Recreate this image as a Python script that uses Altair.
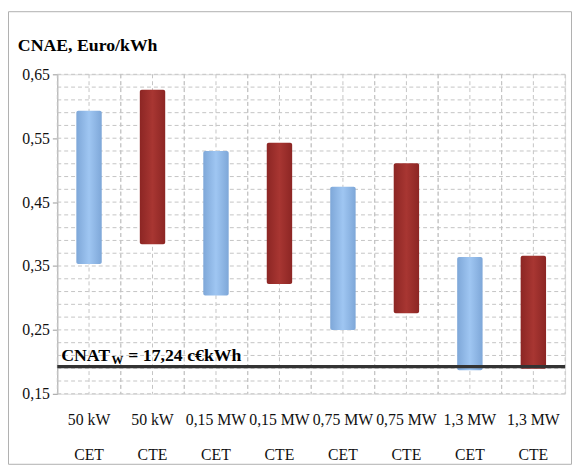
import altair as alt
import pandas as pd

# ---- data ----
categories = ["50 kW|CET", "50 kW|CTE", "0,15 MW|CET", "0,15 MW|CTE",
              "0,75 MW|CET", "0,75 MW|CTE", "1,3 MW|CET", "1,3 MW|CTE"]
series = ["CET", "CTE", "CET", "CTE", "CET", "CTE", "CET", "CTE"]
low_vals = [0.353, 0.384, 0.304, 0.322, 0.250, 0.276, 0.187, 0.189]
high_vals = [0.593, 0.626, 0.530, 0.543, 0.474, 0.511, 0.364, 0.366]
cnat_w = 0.1925
y_label_vals = [0.15, 0.25, 0.35, 0.45, 0.55, 0.65]
y_grid_vals = [0.15, 0.17, 0.19, 0.21, 0.23, 0.25, 0.27, 0.29, 0.31, 0.33,
               0.35, 0.37, 0.39, 0.41, 0.43, 0.45, 0.47, 0.49, 0.51, 0.53,
               0.55, 0.57, 0.59, 0.61, 0.63, 0.65]

bars_df = pd.DataFrame({"cat": categories, "series": series,
                        "low": low_vals, "high": high_vals})
ygrid_df = pd.DataFrame({"v": y_grid_vals})
xgrid_df = pd.DataFrame({"gcat": categories})

W, H = 515, 324
SERIF = "Liberation Serif"

yscale = alt.Scale(domain=[0.15, 0.65], nice=False, zero=False)
xscale = alt.Scale(domain=categories, paddingInner=0.6, paddingOuter=0.3)

blue_grad = alt.Gradient(gradient="linear", x1=0, x2=1, y1=0, y2=0,
                         stops=[alt.GradientStop(color="#7ea7d8", offset=0),
                                alt.GradientStop(color="#9fc6f2", offset=0.5),
                                alt.GradientStop(color="#7ea7d8", offset=1)])
red_grad = alt.Gradient(gradient="linear", x1=0, x2=1, y1=0, y2=0,
                        stops=[alt.GradientStop(color="#8c2624", offset=0),
                               alt.GradientStop(color="#a83632", offset=0.5),
                               alt.GradientStop(color="#8c2624", offset=1)])

yaxis = alt.Axis(values=y_label_vals, grid=False,
                 labelExpr="replace(format(datum.value, '.2f'), '.', ',')",
                 labelFont=SERIF, labelFontSize=16, labelColor="#111",
                 labelPadding=3, tickSize=5, tickColor="#999",
                 domainColor="#aaa")

# horizontal dashed grid
hgrid = alt.Chart(ygrid_df).mark_rule(color="#c4c4c4", strokeWidth=1, strokeDash=[4, 3]).encode(
    y=alt.Y("v:Q", scale=yscale, axis=yaxis, title=None)
)

# vertical dashed grid (own band scale with no padding)
gscale = alt.Scale(domain=categories, paddingInner=0, paddingOuter=0)
vgrid = alt.layer(*[
    alt.Chart(xgrid_df).mark_rule(color="#c4c4c4", strokeWidth=1, strokeDash=[4, 3]).encode(
        x=alt.X("gcat:N", scale=gscale, axis=None, sort=categories, bandPosition=bp),
        y=alt.value(0), y2=alt.value(H)
    ) for bp in (0, 0.5, 1)
])

base = alt.Chart(bars_df)

bars_cet = base.transform_filter(alt.datum.series == "CET").mark_bar(
    color=blue_grad, cornerRadius=2).encode(
    x=alt.X("cat:N", sort=categories, title=None, scale=xscale,
            axis=alt.Axis(labelAngle=0, labelExpr="split(datum.label, '|')",
                          labelLineHeight=36, labelFont=SERIF, labelFontSize=16,
                          labelColor="#111", labelPadding=18, labelBaseline="top",
                          ticks=False, domain=False, grid=False)),
    y=alt.Y("low:Q", scale=yscale, title=None),
    y2="high:Q",
)
bars_cte = base.transform_filter(alt.datum.series == "CTE").mark_bar(
    color=red_grad, cornerRadius=2).encode(
    x=alt.X("cat:N", sort=categories, scale=xscale, title=None),
    y=alt.Y("low:Q", scale=yscale, title=None),
    y2="high:Q",
)

line_df = pd.DataFrame({"v": [cnat_w]})
cnat_line = alt.Chart(line_df).mark_rule(color="#333333", strokeWidth=3.5).encode(
    y=alt.Y("v:Q", scale=yscale)
)

t_main = alt.Chart(line_df).mark_text(
    text="CNAT", font=SERIF, fontSize=18, fontWeight="bold", align="left",
    baseline="alphabetic", dy=-6, color="#000").encode(
    x=alt.value(4), y=alt.Y("v:Q", scale=yscale))
t_sub = alt.Chart(line_df).mark_text(
    text="W", font=SERIF, fontSize=12, fontWeight="bold", align="left",
    baseline="alphabetic", dy=-3, color="#000").encode(
    x=alt.value(55), y=alt.Y("v:Q", scale=yscale))
t_rest = alt.Chart(line_df).mark_text(
    text="= 17,24 c€kWh", font=SERIF, fontSize=18, fontWeight="bold", align="left",
    baseline="alphabetic", dy=-6, color="#000").encode(
    x=alt.value(72), y=alt.Y("v:Q", scale=yscale))

title_df = pd.DataFrame({"t": ["CNAE, Euro/kWh"]})
title_txt = alt.Chart(title_df).mark_text(
    font=SERIF, fontSize=18, fontWeight="bold", align="left",
    baseline="alphabetic", color="#000").encode(
    text="t:N", x=alt.value(-40), y=alt.value(-24))

frame = alt.Chart(line_df).mark_rect(fill=None, stroke="#b0b0b0", strokeWidth=1).encode(
    x=alt.value(-49.5), x2=alt.value(W + 6.5), y=alt.value(-63.5), y2=alt.value(H + 71.5)
)

main = alt.layer(hgrid, frame, bars_cet, bars_cte, cnat_line, t_main, t_sub, t_rest, title_txt)

chart = alt.layer(vgrid, main).resolve_scale(x="independent").properties(
    width=W, height=H,
    autosize=alt.AutoSizeParams(type="none"),
    padding={"left": 50, "top": 64, "right": 7, "bottom": 72},
).configure_view(stroke=None).configure(background="white")

chart.save("out.html", embed_options={"renderer": "svg", "actions": False})
